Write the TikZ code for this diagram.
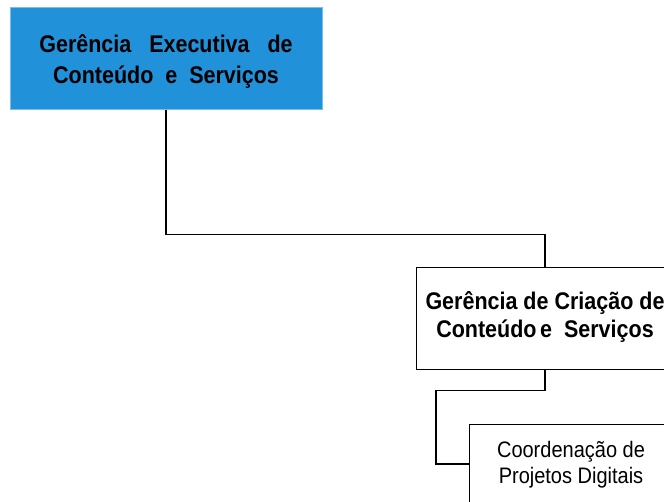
\documentclass[tikz,border=0pt]{standalone}
\usepackage{fontspec}
\usepackage{graphicx}
\setmainfont{Liberation Sans}
\definecolor{boxblue}{RGB}{33,145,217}
\definecolor{edgeblue}{RGB}{120,190,235}
\newcommand{\vtext}[1]{\scalebox{1}[1.12]{\begin{tabular}{@{}c@{}}#1\end{tabular}}}
\begin{document}
\begin{tikzpicture}[x=1pt,y=-1pt,
  orgbox/.style={draw=black,line width=1pt,fill=white,rectangle,inner sep=0pt,align=center},
  conn/.style={draw=black,line width=1.3pt}]
\useasboundingbox (0,0) rectangle (664,501);
\clip (0,0) rectangle (664,501);
\node[orgbox,draw=edgeblue,fill=boxblue,minimum width=312pt,minimum height=102pt,
  font=\fontsize{21.5}{26.8}\selectfont\bfseries] (b1) at (166,58) {};
\node[font=\fontsize{21.5}{26.8}\selectfont\bfseries,inner sep=0pt] (t1) at (166,62)
  {\vtext{Gerência\ \ \ Executiva\ \ \ de\\Conteúdo\ \ e\ \ Serviços}};
\node[orgbox,minimum width=258pt,minimum height=102pt] (b2) at (545,318) {};
\node[font=\fontsize{21.5}{25}\selectfont\bfseries,inner sep=0pt] (t2) at (545,318)
  {\vtext{Gerência de Criação de\\Conteúdo\,e\ \ Serviços}};
\node[orgbox,minimum width=204pt,minimum height=120pt] (b3) at (571,484) {};
\node[font=\fontsize{20}{23.2}\selectfont,inner sep=0pt] (t3) at (571,465)
  {\vtext{Coordenação de\\Projetos Digitais}};
\coordinate (j) at (436,464);
\draw[conn] (b1.south) -- ++(0,125) -| (b2.north);
\draw[conn] (b2.south) -- ++(0,21) -| (j) -- (j -| b3.west);
\end{tikzpicture}
\end{document}
